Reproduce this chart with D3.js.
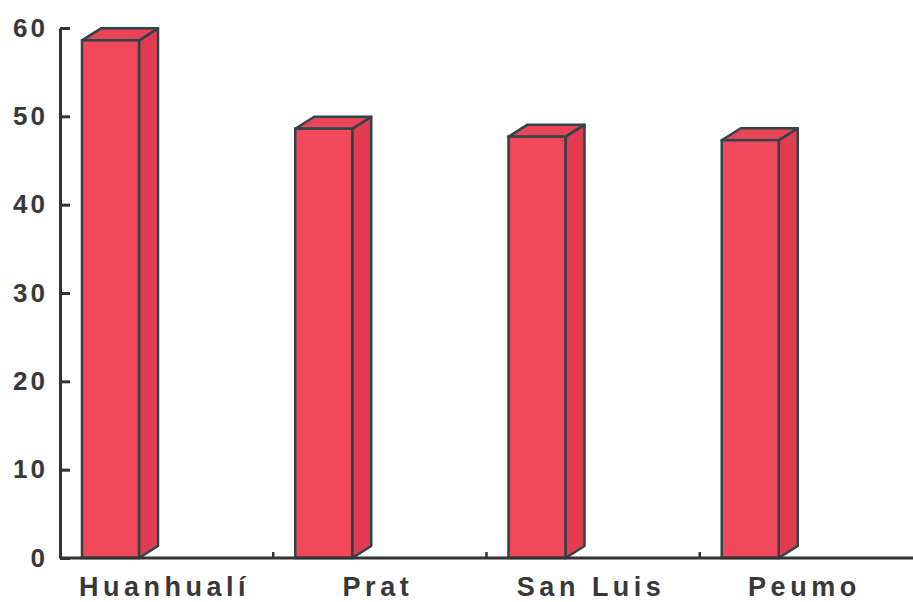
<!DOCTYPE html>
<html><head><meta charset="utf-8">
<script src="https://cdn.jsdelivr.net/npm/d3@7"></script>
<style>body{margin:0;background:#fff}</style>
</head><body>
<svg id="c" width="913" height="602"></svg>
<script>
const categories = ["Huanhualí", "Prat", "San Luis", "Peumo"];
const values = [58.6, 48.6, 47.7, 47.3];
const yTicks = [0, 10, 20, 30, 40, 50, 60];

(function () {
const svg = d3.select("#c");
const mLeft = 60, mRight = 913, mTop = 28, mBottom = 558;
const x = d3.scaleBand().domain(categories).range([mLeft, mRight]);
const y = d3.scaleLinear().domain([0, 60]).range([mBottom, mTop]);
const dx = 19, dy = -12, barOff = 22, barW = 57;
const stroke = "#2e4446";

const g = svg.append("g");
categories.forEach((c, i) => {
  const x0 = x(c) + barOff, x1 = x0 + barW;
  const yT = y(values[i]), yB = y(0);
  g.append("polygon")
    .attr("points", [[x1, yB], [x1 + dx, yB + dy], [x1 + dx, yT + dy], [x1, yT]].map(p => p.join(",")).join(" "))
    .attr("fill", "#e23c52").attr("stroke", stroke).attr("stroke-width", 2.5).attr("stroke-linejoin", "round");
  g.append("polygon")
    .attr("points", [[x0, yT], [x0 + dx, yT + dy], [x1 + dx, yT + dy], [x1, yT]].map(p => p.join(",")).join(" "))
    .attr("fill", "#ea4458").attr("stroke", stroke).attr("stroke-width", 2.5).attr("stroke-linejoin", "round");
  g.append("rect")
    .attr("x", x0).attr("y", yT).attr("width", barW).attr("height", yB - yT)
    .attr("fill", "#f2485c").attr("stroke", stroke).attr("stroke-width", 2.5);
});

const ya = svg.append("g").attr("transform", `translate(${mLeft},0)`)
  .call(d3.axisLeft(y).tickValues(yTicks).tickSizeInner(-10).tickSizeOuter(0).tickPadding(12));
ya.select(".domain").attr("stroke", "#333").attr("stroke-width", 3);
ya.selectAll(".tick line").attr("stroke", "#333").attr("stroke-width", 3);
ya.selectAll(".tick text")
  .attr("font-family", "Liberation Sans, Arial, sans-serif").attr("font-weight", "bold")
  .attr("font-size", 26).attr("fill", "#383838").style("letter-spacing", "3px");

const xa = svg.append("g").attr("transform", `translate(0,${mBottom})`);
xa.append("line").attr("x1", mLeft).attr("x2", mRight).attr("y1", 0).attr("y2", 0)
  .attr("stroke", "#333").attr("stroke-width", 3);
xa.selectAll("line.tk").data(categories.slice(1)).join("line").attr("class", "tk")
  .attr("x1", d => x(d)).attr("x2", d => x(d)).attr("y1", 0).attr("y2", -6)
  .attr("stroke", "#333").attr("stroke-width", 2.5);
xa.selectAll("text").data(categories).join("text")
  .attr("x", d => x(d) + x.bandwidth() / 2 - 2).attr("y", 38)
  .attr("text-anchor", "middle")
  .attr("font-family", "Liberation Sans, Arial, sans-serif").attr("font-weight", "bold")
  .attr("font-size", 27).attr("fill", "#383838").style("letter-spacing", "4.5px")
  .text(d => d);
})();
</script>
</body></html>
